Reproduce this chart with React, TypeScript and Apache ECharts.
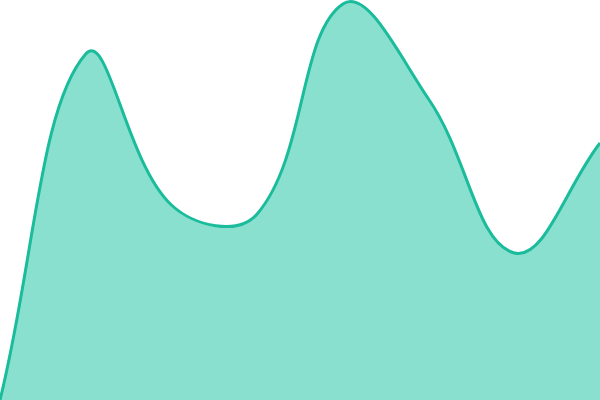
import React, { useRef, useEffect } from 'react';
import * as echarts from 'echarts';

const categories = ['1', '2', '3', '4', '5', '6', '7', '8'];
const values = [0, 346, 195, 186, 396, 301, 147, 257];

const TENSION = 0.4;
const LINE_COLOR = '#1abc9c';
const AREA_COLOR = 'rgba(22,194,158,0.5)';

// cardinal-style bezier: handles follow prev->next, split by segment length; ends use the neighbour
function smoothPath(pts: number[][]): string {
  const n = pts.length;
  const cps = pts.map((p, i) => {
    const prev = pts[i - 1] || p;
    const next = pts[i + 1] || p;
    const d01 = Math.hypot(p[0] - prev[0], p[1] - prev[1]);
    const d12 = Math.hypot(next[0] - p[0], next[1] - p[1]);
    const s = d01 + d12 || 1;
    const fa = (TENSION * d01) / s;
    const fb = (TENSION * d12) / s;
    return {
      inX: p[0] - fa * (next[0] - prev[0]),
      inY: p[1] - fa * (next[1] - prev[1]),
      outX: p[0] + fb * (next[0] - prev[0]),
      outY: p[1] + fb * (next[1] - prev[1])
    };
  });
  let d = `M${pts[0][0]},${pts[0][1]}`;
  for (let i = 1; i < n; i++) {
    const a = cps[i - 1];
    const b = cps[i];
    d += ` C${a.outX},${a.outY} ${b.inX},${b.inY} ${pts[i][0]},${pts[i][1]}`;
  }
  return d;
}

const App: React.FC = () => {
  const chartRef = useRef<HTMLDivElement>(null);

  useEffect(() => {
    if (!chartRef.current) return;
    const chart = echarts.init(chartRef.current, undefined, { renderer: 'svg' });

    chart.setOption({
      animation: false,
      grid: { left: 0, right: 0, top: 0, bottom: 0 },
      xAxis: {
        type: 'category',
        data: categories,
        boundaryGap: false,
        show: false
      },
      yAxis: {
        type: 'value',
        min: 0,
        max: 400,
        show: false
      },
      series: [
        {
          type: 'custom',
          clip: false,
          data: values.map((v, i) => [i, v]),
          renderItem: (params: any, api: any) => {
            if (params.dataIndex !== 0) return null;
            const pts = values.map((v, i) => api.coord([i, v]));
            const line = smoothPath(pts);
            const base0 = api.coord([0, 0]);
            const baseN = api.coord([values.length - 1, 0]);
            const area = `${line} L${baseN[0]},${baseN[1]} L${base0[0]},${base0[1]} Z`;
            return {
              type: 'group',
              children: [
                {
                  type: 'path',
                  shape: { pathData: area },
                  style: { fill: AREA_COLOR, stroke: null }
                },
                {
                  type: 'path',
                  shape: { pathData: line },
                  style: { fill: null, stroke: LINE_COLOR, lineWidth: 3 }
                }
              ]
            };
          }
        }
      ]
    });

    return () => {
      chart.dispose();
    };
  }, []);

  return <div ref={chartRef} style={{ width: '600px', height: '400px', position: 'fixed', left: 0, top: 0 }} />;
};

export default App;
